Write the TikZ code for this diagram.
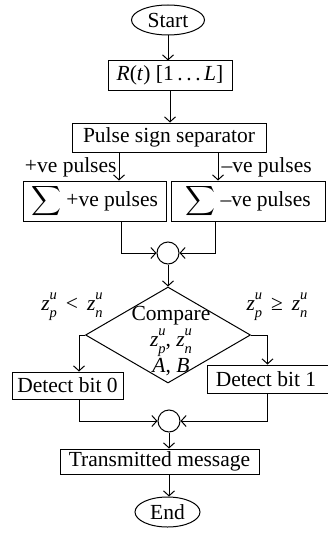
\documentclass[tikz,border=0pt]{standalone}
\usepackage{amsmath}
\usepackage{fontspec}
\setmainfont{Liberation Serif}
\usetikzlibrary{shapes.geometric,arrows.meta,calc}
\newcommand\zsym[1]{\textit{z}\makebox[0pt][l]{\raisebox{0.5em}{\fontsize{14.5}{14.5}\selectfont\textit{u}}}\raisebox{-0.32em}{\fontsize{14.5}{14.5}\selectfont\textit{#1}}}
\begin{document}
\begin{tikzpicture}[x=1pt,y=-1pt,
  font=\fontsize{21.5}{24}\selectfont,
  every path/.style={line width=1pt},
  arr/.style={-{Straight Barb[length=5pt,width=11pt]}},
  box/.style={draw,rectangle,inner sep=0pt},
  term/.style={draw,ellipse,inner sep=0pt},
  junc/.style={draw,circle,inner sep=0pt,minimum size=22pt},
  dia/.style={draw,diamond,inner sep=0pt,minimum width=165pt,minimum height=96pt}]
\useasboundingbox (0,0) rectangle (327,535);
\node[term,minimum width=73pt,minimum height=30pt] (start) at (168,20) {Start};
\node[box,minimum width=124pt,minimum height=29pt] (rt) at (170,75.5) {\textit{R}(\textit{t}) [1\,.\,.\,.\,\textit{L}]};
\node[box,minimum width=194pt,minimum height=29pt] (sep) at (169,137.5) {Pulse sign separator};
\node[box,minimum width=143pt,minimum height=40pt] (sump) at (94.5,201) {$\displaystyle\sum$\ +ve pulses};
\node[box,minimum width=154pt,minimum height=40pt] (sumn) at (248,201) {$\displaystyle\sum$\ \textendash ve pulses};
\node[junc] (j1) at (168,253) {};
\node[dia] (cmp) at (168,335) {};
\node[align=center,inner sep=0pt,font=\fontsize{21.5}{26}\selectfont] (cmptxt) at (171,341) {Compare\\\zsym{p}, \zsym{n}\\\textit{A}, \textit{B}};
\node[box,minimum width=111pt,minimum height=27pt] (d0) at (67.5,385.5) {Detect bit 0};
\node[box,minimum width=124pt,minimum height=28pt,anchor=west] (d1) at (207,379) {\hspace*{-7pt}Detect bit 1};
\node[junc] (j2) at (169,421) {};
\node[box,minimum width=199pt,minimum height=25pt] (tm) at (159.5,461.5) {Transmitted message};
\node[term,minimum width=65pt,minimum height=30pt] (end) at (167.5,512) {End};
\node[anchor=east,inner sep=0pt] (lp) at (117,167) {+ve pulses};
\node[anchor=west,inner sep=0pt] (ln) at (221,167) {\textendash ve pulses};
\node[inner sep=0pt] (lt) at (72,307) {\zsym{p} \,<\, \zsym{n}};
\node[inner sep=0pt] (ge) at (277,307) {\zsym{p} \,≥\, \zsym{n}};
\draw[arr] (start.south) -- (start.south |- rt.north);
\draw[arr] (rt.south) -- (rt.south |- sep.north);
\draw[arr] ([xshift=-50pt]sep.south) -- ([xshift=-50pt]sep.south |- sump.north);
\draw[arr] ([xshift=49pt]sep.south) -- ([xshift=49pt]sep.south |- sumn.north);
\draw[arr] ([xshift=26.5pt]sump.south) |- (j1.west);
\draw[arr] ([xshift=-33pt]sumn.south) |- (j1.east);
\draw[arr] (j1.south) -- (cmp.north);
\draw[arr] (cmp.west) -| ([xshift=11.5pt]d0.north);
\draw[arr] (cmp.east) -| ([xshift=-2pt]d1.north);
\draw[arr] ([xshift=11.5pt]d0.south) |- (j2.west);
\draw[arr] ([xshift=-2pt]d1.south) |- (j2.east);
\draw[arr] (j2.south) -- (j2.south |- tm.north);
\draw[arr] (j2.south |- tm.south) -- (j2.south |- end.north);
\end{tikzpicture}
\end{document}
